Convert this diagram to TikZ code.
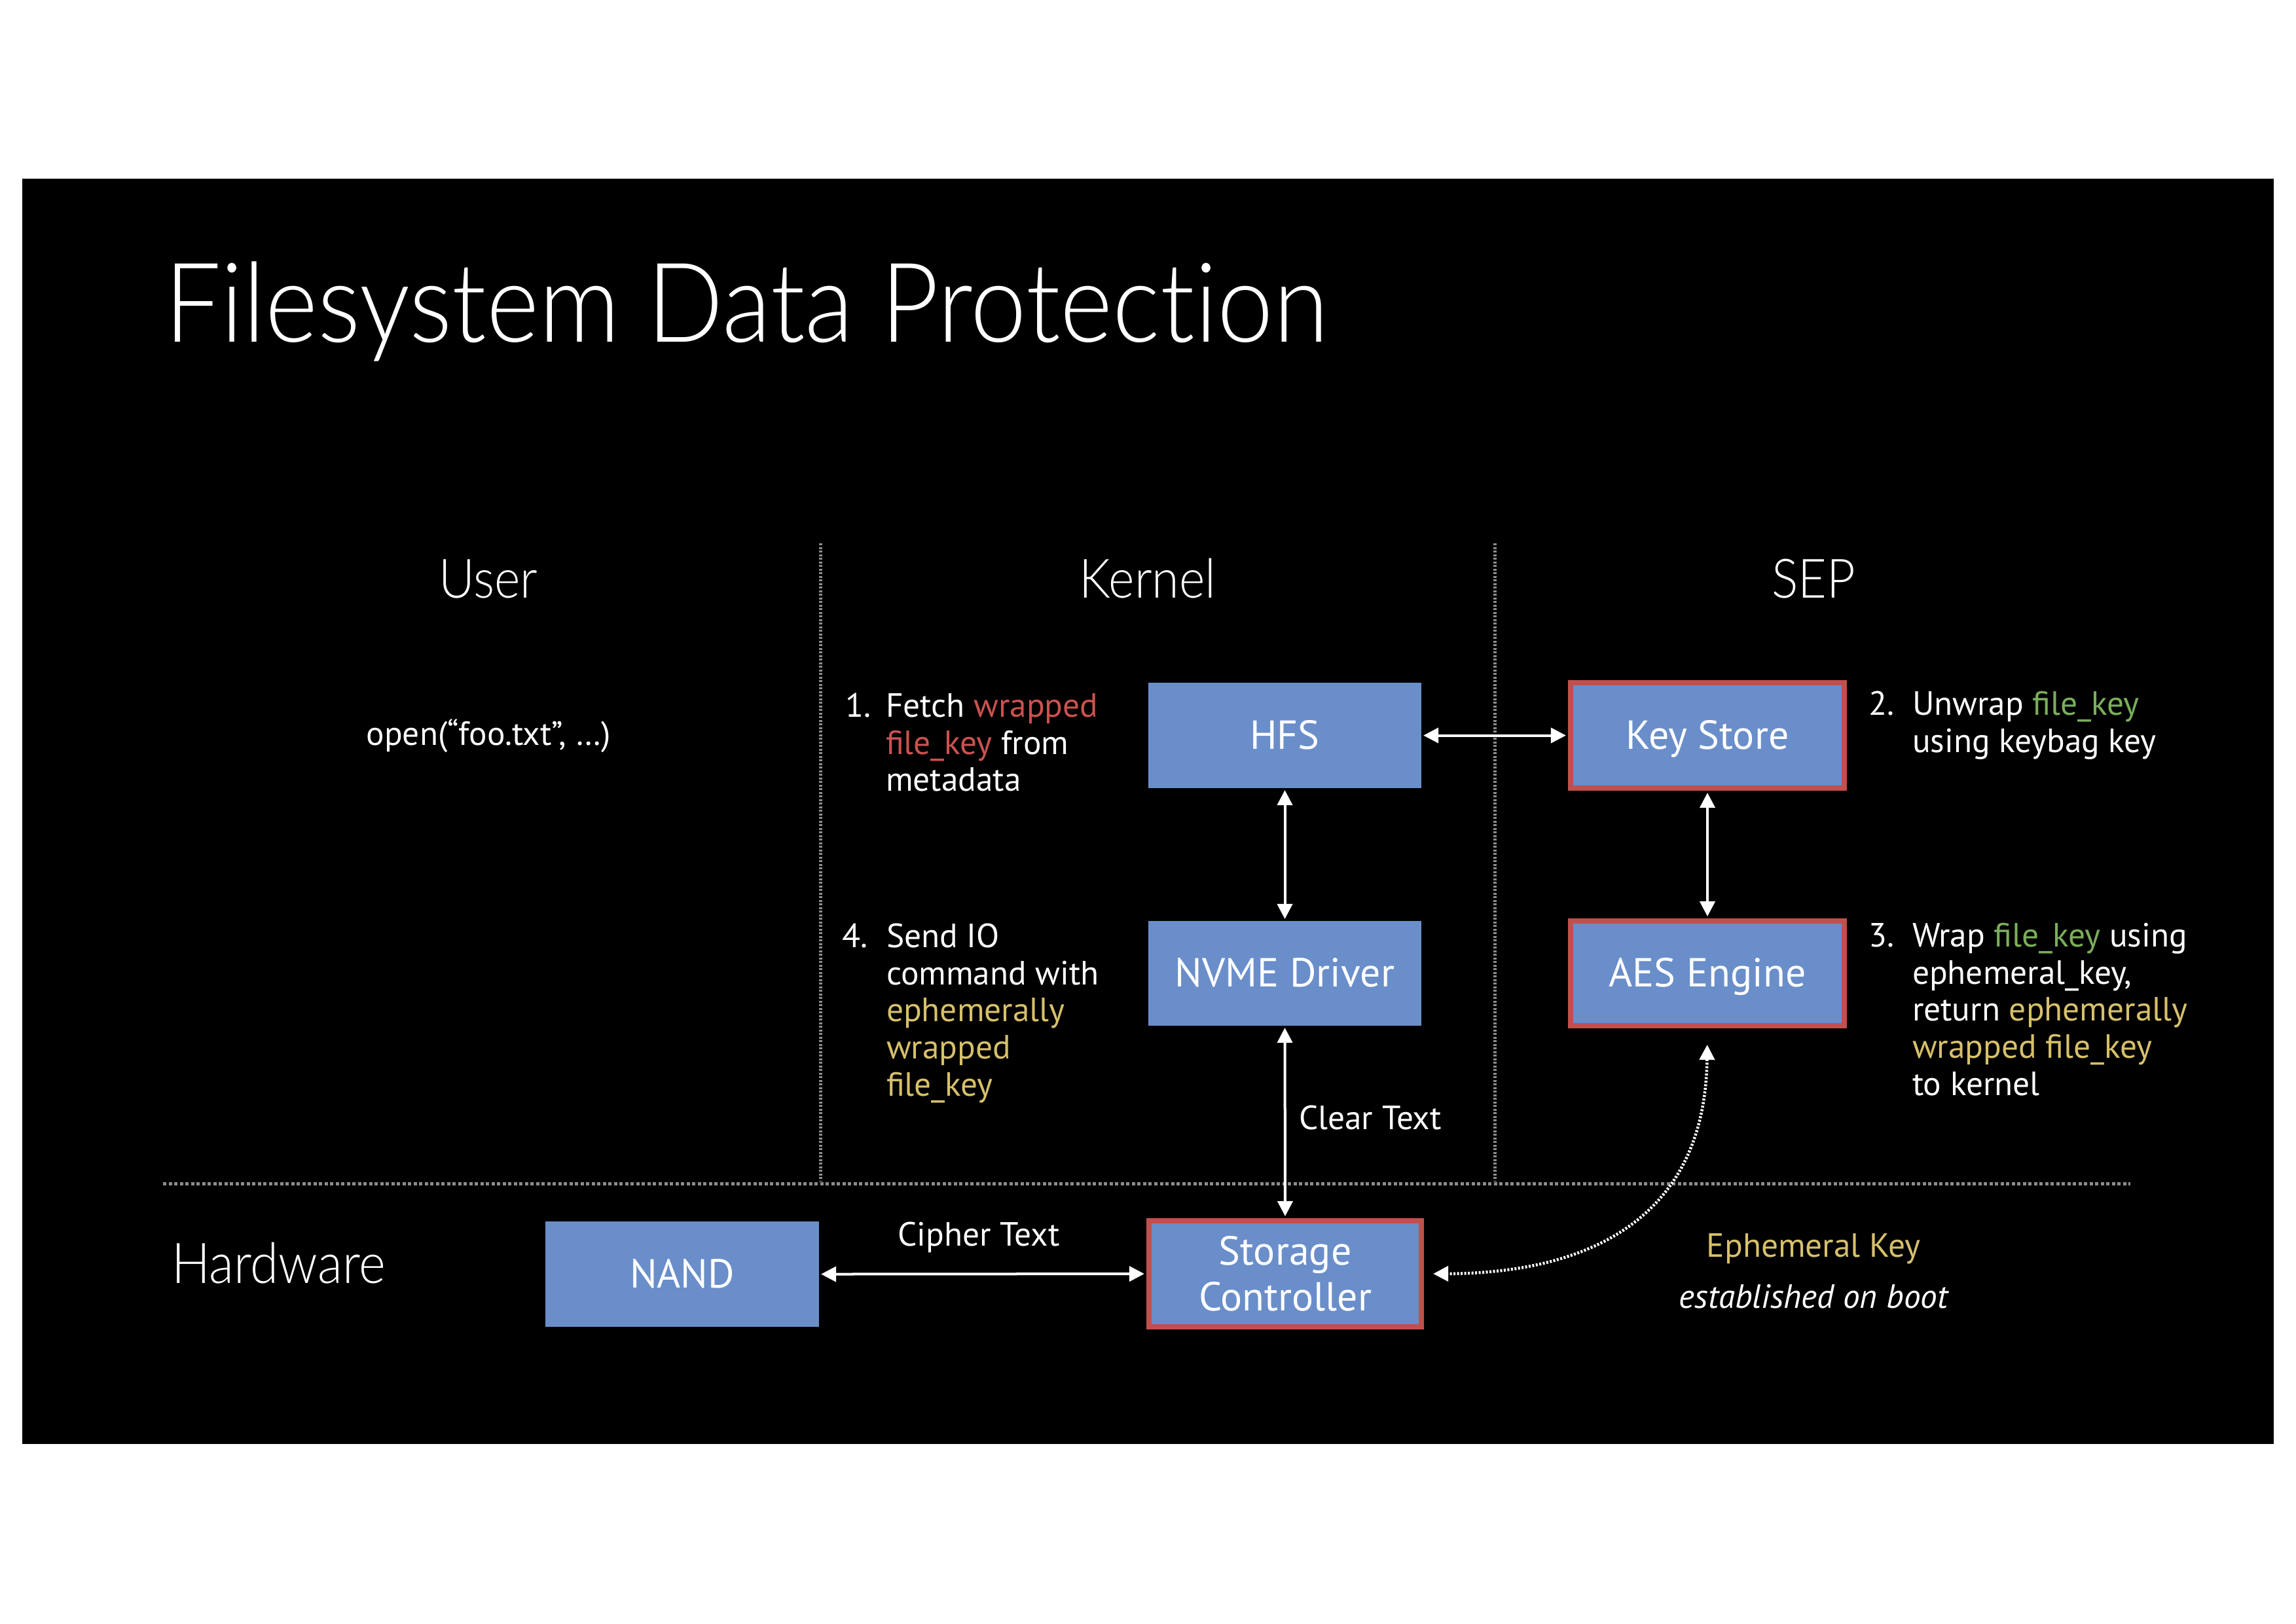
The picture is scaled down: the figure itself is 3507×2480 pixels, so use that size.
\documentclass[tikz,border=0pt]{standalone}
\usepackage{fontspec}
\setmainfont{PT Sans}
\IfFontExistsTF{Lato Light}{\newfontfamily\thinfont{Lato Light}[FakeStretch=0.91,RawFeature=-liga]}{%
  \IfFontExistsTF{Fira Sans Light}{\newfontfamily\thinfont{Fira Sans Light}[FakeStretch=0.9]}{\newfontfamily\thinfont{PT Sans}}}
\usetikzlibrary{arrows.meta}
\definecolor{boxblue}{HTML}{6A8EC9}
\definecolor{boxred}{HTML}{C0504D}
\definecolor{txtred}{HTML}{C9524F}
\definecolor{txtgreen}{HTML}{7AAE5A}
\definecolor{txtyellow}{HTML}{D6C06A}
\definecolor{dashgray}{HTML}{8C8C8C}
\newcommand\myBody{\fontsize{14.6}{16.2}\selectfont}
\newcommand\myBoxFont{\fontsize{17.6}{20}\selectfont}
\newcommand\myTitle{\thinfont\fontsize{48}{53}\selectfont}
\newcommand\myHead{\thinfont\fontsize{23.6}{28}\selectfont}
\begin{document}
\begin{tikzpicture}[x=0.01cm,y=-0.01cm,
  box/.style={fill=boxblue, minimum width=4.17cm, minimum height=1.61cm, inner sep=0pt, outer sep=0pt, text=white, font=\myBoxFont, align=center},
  redbox/.style={box, draw=boxred, line width=0.08cm, outer sep=0.04cm},
  oneline/.style={text height=11.8pt, text depth=0pt},
  txt/.style={text=white, inner sep=0pt, outer sep=0pt, font=\myBody},
  conn/.style={white, line width=0.04cm, {Triangle[length=0.23cm,width=0.23cm]}-{Triangle[length=0.23cm,width=0.23cm]}, shorten <=0.03cm, shorten >=0.03cm},
  dotconn/.style={white, line width=0.045cm, dash pattern=on 0.03cm off 0.025cm, {Triangle[length=0.23cm,width=0.23cm]}-{Triangle[length=0.23cm,width=0.23cm]}},
  vsep/.style={dashgray, line width=0.05cm, dash pattern=on 0.03cm off 0.025cm},
  hsep/.style={dashgray, line width=0.05cm, dash pattern=on 0.05cm off 0.035cm}
]
\useasboundingbox (0,0) rectangle (3507,2480);
\fill[white] (0,0) rectangle (3507,2480);
\fill[black] (34,273) rectangle (3473,2206);

% title
\node[txt, font=\myTitle, anchor=base west] (title) at (251,522) {Filesystem Data Protection};

% separators
\coordinate (v1t) at (1253,830); \coordinate (v1b) at (1253,1805);
\coordinate (v2t) at (2283,830); \coordinate (v2b) at (2283,1805);
\coordinate (hl) at (249,1808); \coordinate (hr) at (3254,1808);
\draw[vsep] (v1t) -- (v1b);
\draw[vsep] (v2t) -- (v2b);
\draw[hsep] (hl) -- (hr);

% headers
\node[txt, font=\myHead, anchor=base] (user) at (746,913) {User};
\node[txt, font=\myHead, anchor=base] (kernel) at (1753,913) {Kernel};
\node[txt, font=\myHead, anchor=base] (sep) at (2770,913) {SEP};
\node[txt, font=\thinfont\fontsize{24.4}{28}\selectfont, anchor=base west] (hw) at (262,1960) {Hardware};

% user call
\node[txt, anchor=base] (open) at (746,1138) {open(“foo.txt”,~…)};

% boxes
\node[box, oneline] (hfs) at (1962.5,1123.5) {HFS};
\node[box, oneline, minimum height=1.60cm] (nvme) at (1962.5,1487) {NVME Driver};
\node[redbox, oneline, minimum width=4.18cm, minimum height=1.61cm] (ks) at (2608,1123.5) {Key Store};
\node[redbox, oneline, minimum width=4.18cm, minimum height=1.60cm] (aes) at (2608,1487) {AES Engine};
\node[redbox, minimum width=4.16cm, minimum height=1.62cm] (sc) at (1963,1946) {Storage\\Controller};
\node[box, oneline, minimum width=4.18cm] (nand) at (1042,1946.5) {NAND};

% step texts
\node[txt, anchor=base west] (n1) at (1291,1095) {1.};
\node[txt, anchor=base west] (s1) at (1353,1095) {\parbox[t]{5cm}{\raggedright Fetch \textcolor{txtred}{wrapped}\\ \textcolor{txtred}{file\_key} from\\ metadata}};
\node[txt, anchor=base west] (n4) at (1286,1447) {4.};
\node[txt, anchor=base west] (s4) at (1354,1447) {\parbox[t]{5cm}{\raggedright Send IO\\ command with\\ \textcolor{txtyellow}{ephemerally}\\ \textcolor{txtyellow}{wrapped}\\ \textcolor{txtyellow}{file\_key}}};
\node[txt, anchor=base west] (n2) at (2854,1092) {2.};
\node[txt, anchor=base west] (s2) at (2921,1092) {\parbox[t]{6cm}{\raggedright Unwrap \textcolor{txtgreen}{file\_key}\\ using keybag key}};
\node[txt, anchor=base west] (n3) at (2854,1446) {3.};
\node[txt, anchor=base west] (s3) at (2921,1446) {\parbox[t]{6cm}{\raggedright Wrap \textcolor{txtgreen}{file\_key} using\\ ephemeral\_key,\\ return \textcolor{txtyellow}{ephemerally}\\ \textcolor{txtyellow}{wrapped file\_key}\\ to kernel}};

% connectors
\draw[conn] (hfs.east) -- (ks.west);
\draw[conn] (hfs.south) -- (nvme.north);
\draw[conn] (ks.south) -- (aes.north);
\draw[conn] (nvme.south) -- (sc.north);
\draw[conn] (nand.east) -- (sc.west);
\draw[dotconn, shorten <=0.25cm, shorten >=0.14cm] (aes.south) .. controls (2604,1880) and (2400,1945) .. (sc.east);

% labels
\node[txt, anchor=base west] (clear) at (1984,1725) {Clear Text};
\node[txt, anchor=base] (cipher) at (1495,1903) {Cipher Text};
\node[txt, anchor=base, text=txtyellow] (ek) at (2770,1920) {Ephemeral Key};
\node[txt, anchor=base] (boot) at (2770,1998) {\itshape established on boot};
\end{tikzpicture}
\end{document}
